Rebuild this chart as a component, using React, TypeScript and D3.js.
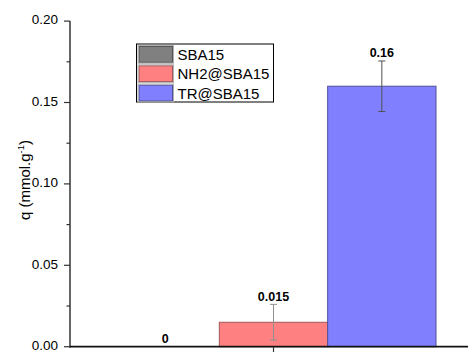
import React from "react";
import * as d3 from "d3";

const categories = ["SBA15", "NH2@SBA15", "TR@SBA15"];
const values = [0, 0.015, 0.16];
const errors = [0, 0.011, 0.0155];
const valueLabels = ["0", "0.015", "0.16"];
const fills = ["#808080", "#ff8080", "#8080ff"];
const strokes = ["#555555", "#a05858", "#50509a"];
const errColors = ["#888888", "#909090", "#505050"];
const yTicks = [0, 0.05, 0.1, 0.15, 0.2];
const yMinorTicks = [0.025, 0.075, 0.125, 0.175];

export default function App() {
  const W = 469, H = 352;
  const axisX = 70, axisY = 346.7, topY = 21.1;
  const y = d3.scaleLinear().domain([0, 0.2]).range([axisY, topY]);
  const x = d3.scaleBand<string>().domain(categories).range([111, 436]).padding(0);
  const font = "Liberation Sans, Arial, sans-serif";
  const bw = x.bandwidth();
  return (
    <svg width={W} height={H} style={{ position: "absolute", left: 0, top: 0, background: "#fff" }} fontFamily={font}>
      {/* bars */}
      {categories.map((c, i) => (
        <rect key={c} x={x(c)!} y={y(values[i])} width={bw} height={axisY - y(values[i])}
          fill={fills[i]} stroke={strokes[i]} strokeWidth={1} />
      ))}
      {/* error bars */}
      {categories.map((c, i) => {
        if (errors[i] === 0) return null;
        const cx = x(c)! + bw / 2;
        const y1 = y(values[i] + errors[i]);
        const y2 = y(values[i] - errors[i]);
        return (
          <g key={"e" + c} stroke={errColors[i]} strokeWidth={1}>
            <line x1={cx} x2={cx} y1={y1} y2={y2} />
            <line x1={cx - 3.5} x2={cx + 3.5} y1={y1} y2={y1} />
            <line x1={cx - 3.5} x2={cx + 3.5} y1={y2} y2={y2} />
          </g>
        );
      })}
      {/* value labels */}
      {categories.map((c, i) => {
        const cx = x(c)! + bw / 2;
        const top = errors[i] > 0 ? y(values[i] + errors[i]) : y(values[i]);
        return (
          <text key={"l" + c} x={cx} y={top - 3.5} textAnchor="middle" fontSize={12.5} fontWeight="bold" fill="#000">
            {valueLabels[i]}
          </text>
        );
      })}
      {/* y axis */}
      <line x1={axisX} x2={axisX} y1={topY} y2={axisY + 1} stroke="#333" strokeWidth={1.5} />
      {yTicks.map(t => (
        <g key={"yt" + t}>
          <line x1={axisX - 6} x2={axisX} y1={y(t)} y2={y(t)} stroke="#333" strokeWidth={1.2} />
          <text x={axisX - 12} y={y(t) - 1.5} dy="0.35em" textAnchor="end" fontSize={13.5} fill="#000">{d3.format(".2f")(t)}</text>
        </g>
      ))}
      {yMinorTicks.map(t => (
        <line key={"ym" + t} x1={axisX - 3.5} x2={axisX} y1={y(t)} y2={y(t)} stroke="#333" strokeWidth={1.2} />
      ))}
      {/* x axis */}
      <line x1={axisX} x2={468} y1={axisY} y2={axisY} stroke="#111" strokeWidth={1.8} />
      <line x1={x(categories[1])! + bw / 2} x2={x(categories[1])! + bw / 2} y1={axisY} y2={axisY + 6} stroke="#333" strokeWidth={1.2} />
      {/* y label */}
      <text transform={`translate(30,180) rotate(-90)`} textAnchor="middle" fontSize={15} fill="#000">
        q (mmol.g<tspan dy={-6} fontSize={9.5}>-1</tspan><tspan dy={6}>)</tspan>
      </text>
      {/* legend */}
      <rect x={136.5} y={44} width={137} height={58} fill="#fff" stroke="#000" strokeWidth={1} />
      {categories.map((c, i) => (
        <g key={"lg" + c}>
          <rect x={139} y={46.5 + i * 19.3} width={33.5} height={15.8} fill={fills[i]} stroke={strokes[i]} strokeWidth={1} />
          <rect x={138} y={45.5 + i * 19.3} width={35.5} height={17.8} fill="none" stroke="#b0b0b0" strokeWidth={1} />
          <text x={177.5} y={60 + i * 19.3} fontSize={15} fill="#000">{c}</text>
        </g>
      ))}
    </svg>
  );
}
